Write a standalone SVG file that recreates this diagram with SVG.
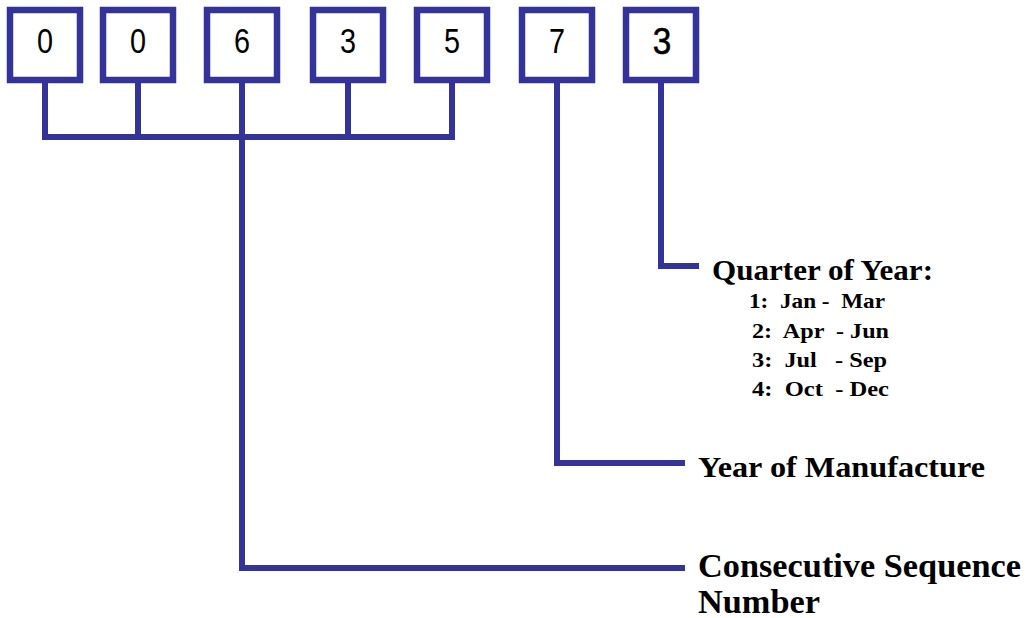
<svg xmlns="http://www.w3.org/2000/svg" width="1029" height="618" viewBox="0 0 1029 618">
<style>
.box{fill:#ffffff;stroke:#333399;stroke-width:6.5}
.dig{font-family:"Liberation Sans",Arial,sans-serif;font-size:36px;fill:#000;text-anchor:middle}
.con{fill:none;stroke:#333399;stroke-width:6;stroke-linejoin:miter}
.lbl{font-family:"Liberation Serif","Times New Roman",serif;font-weight:bold;fill:#000}
</style>
<rect width="1029" height="618" fill="#ffffff"/>
<g id="connectors">
<path class="con" d="M45 83 V137 H452 V83"/>
<path class="con" d="M138 83 V137"/>
<path class="con" d="M348 83 V137"/>
<path class="con" d="M242 83 V568 H685"/>
<path class="con" d="M557 83 V463 H685"/>
<path class="con" d="M661 83 V266 H699"/>
</g>
<g id="d1"><rect class="box" x="10" y="10" width="70" height="70"/><text class="dig" transform="translate(45 53) scale(0.8 1)">0</text></g>
<g id="d2"><rect class="box" x="103" y="10" width="70" height="70"/><text class="dig" transform="translate(138 53) scale(0.8 1)">0</text></g>
<g id="d3"><rect class="box" x="207" y="10" width="70" height="70"/><text class="dig" transform="translate(242 53) scale(0.8 1)">6</text></g>
<g id="d4"><rect class="box" x="313" y="10" width="70" height="70"/><text class="dig" transform="translate(348 53) scale(0.8 1)">3</text></g>
<g id="d5"><rect class="box" x="417" y="10" width="70" height="70"/><text class="dig" transform="translate(452 53) scale(0.8 1)">5</text></g>
<g id="d6"><rect class="box" x="522" y="10" width="70" height="70"/><text class="dig" transform="translate(557 53) scale(0.8 1)">7</text></g>
<g id="d7"><rect class="box" x="626" y="10" width="70" height="70"/><text class="dig" transform="translate(662 54) scale(0.9 1)" style="font-size:37px;stroke:#000;stroke-width:0.6">3</text></g>
<g id="quarter">
<text class="lbl" x="712" y="280" font-size="30" textLength="221" lengthAdjust="spacingAndGlyphs">Quarter of Year:</text>
<text class="lbl" x="749" y="308" font-size="22" textLength="136" lengthAdjust="spacingAndGlyphs" xml:space="preserve">1:  Jan -  Mar</text>
<text class="lbl" x="752" y="337.5" font-size="22" textLength="137" lengthAdjust="spacingAndGlyphs" xml:space="preserve">2:  Apr  - Jun</text>
<text class="lbl" x="752" y="366.5" font-size="22" textLength="135" lengthAdjust="spacingAndGlyphs" xml:space="preserve">3:  Jul   - Sep</text>
<text class="lbl" x="752" y="395.5" font-size="22" textLength="137" lengthAdjust="spacingAndGlyphs" xml:space="preserve">4:  Oct  - Dec</text>
</g>
<g id="year">
<text class="lbl" x="698" y="477" font-size="30" textLength="287" lengthAdjust="spacingAndGlyphs">Year of Manufacture</text>
</g>
<g id="sequence">
<text class="lbl" x="698" y="577" font-size="33" textLength="323" lengthAdjust="spacingAndGlyphs">Consecutive Sequence</text>
<text class="lbl" x="698" y="613" font-size="33" textLength="122" lengthAdjust="spacingAndGlyphs">Number</text>
</g>
</svg>
